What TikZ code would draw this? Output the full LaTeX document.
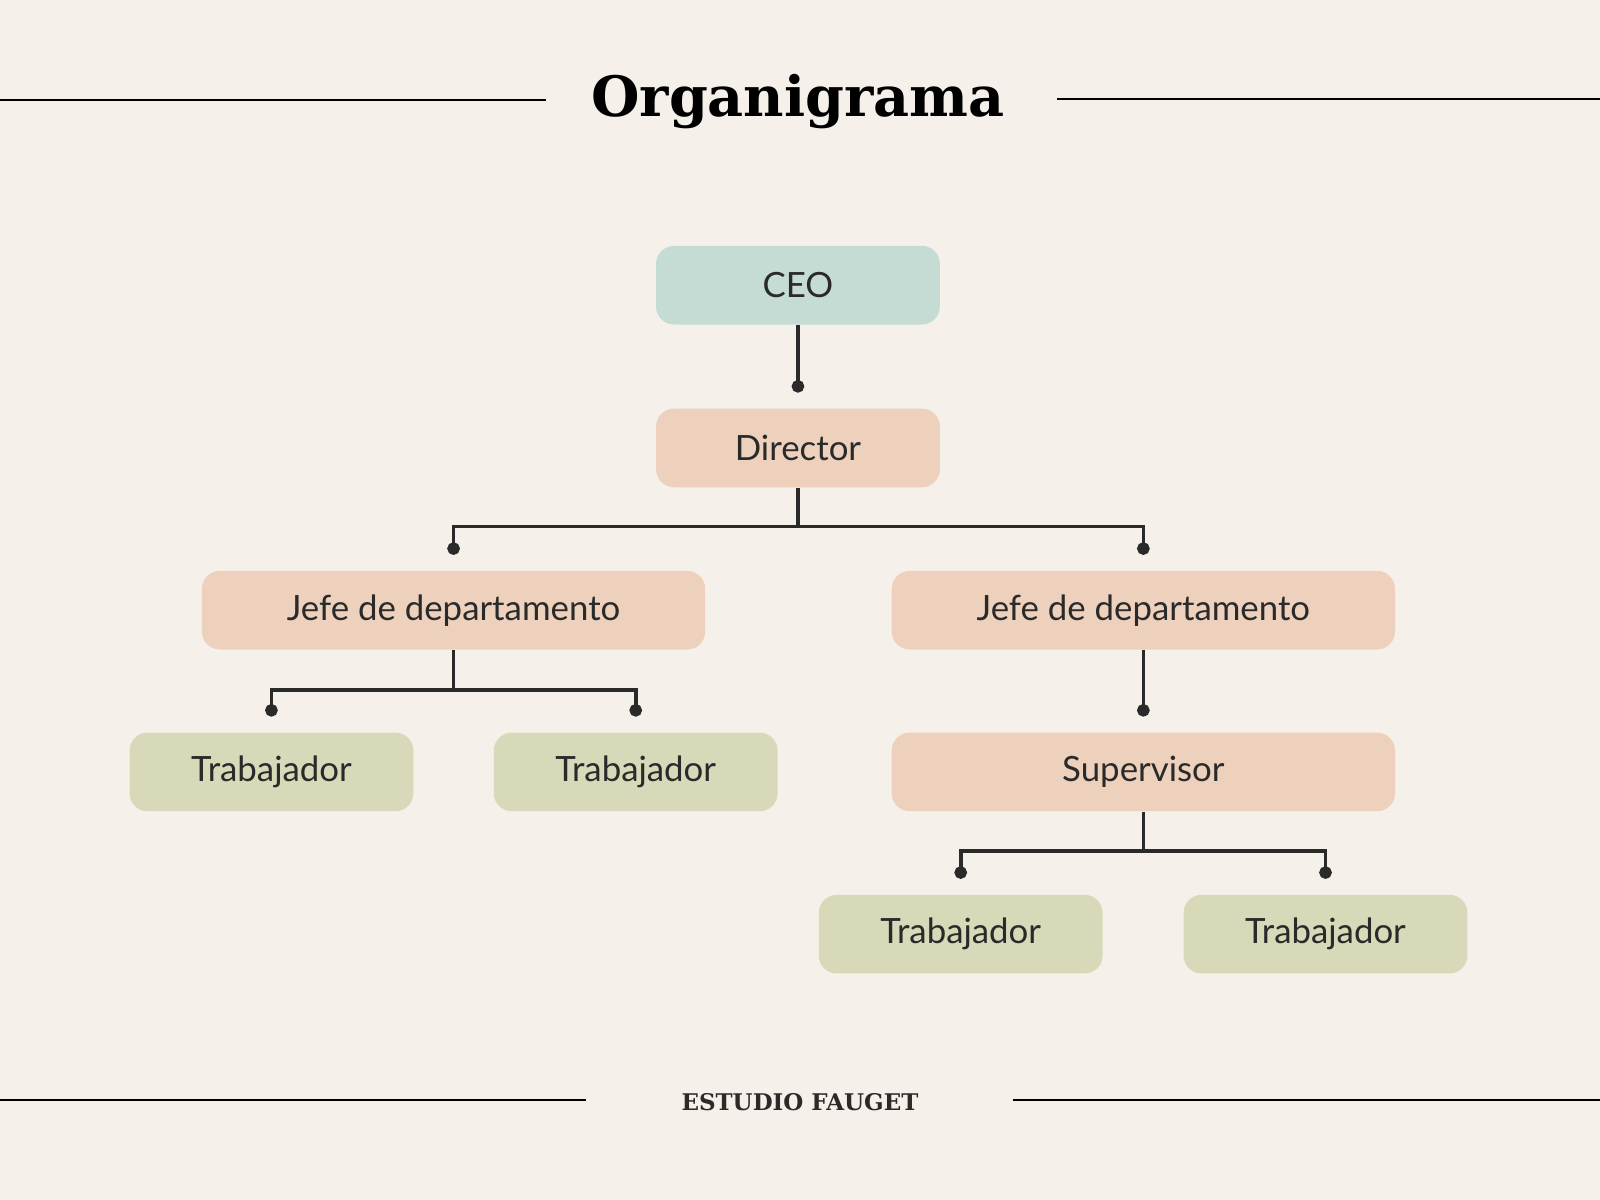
\documentclass[tikz,border=0pt]{standalone}
\usepackage{fontspec}
\setmainfont{Lato}
\newfontfamily\titlefont{DejaVu Serif}
\usetikzlibrary{arrows.meta}
\definecolor{bg}{HTML}{F5F1EA}
\definecolor{ceoc}{HTML}{C5DCD5}
\definecolor{peach}{HTML}{EDD1BC}
\definecolor{olive}{HTML}{D8D9B9}
\definecolor{ln}{HTML}{2A2A2A}
\begin{document}
\begin{tikzpicture}[x=0.01cm,y=-0.01cm,
  box/.style={rounded corners=5pt,minimum width=2.78cm,minimum height=0.77cm,inner sep=0pt,font=\fontsize{9.7}{11}\selectfont,text=ln},
  wide/.style={box,minimum width=4.93cm},
  con/.style={draw=ln,line width=1pt,-{Circle[length=3.5pt]}},
  rule/.style={draw=black,line width=0.4pt}]
\fill[bg] (0,0) rectangle (1568,1176);
\useasboundingbox (0,0) rectangle (1568,1176);
\node[font=\titlefont\bfseries\fontsize{15.5}{18}\selectfont] (title) at (782,100) {Organigrama};
\draw[rule] (0,98) -- (535,98);
\draw[rule] (1036,97) -- (1568,97);
\node[font=\titlefont\bfseries\fontsize{6.4}{8}\selectfont,text=ln] (foot) at (784,1080) {ESTUDIO FAUGET};
\draw[rule] (0,1078) -- (574,1078);
\draw[rule] (993,1078) -- (1568,1078);
\node[box,fill=ceoc] (ceo) at (782,279.5) {CEO};
\node[box,fill=peach] (dir) at (782,439) {Director};
\node[wide,fill=peach] (j1) at (444.5,598) {Jefe de departamento};
\node[wide,fill=peach] (j2) at (1120.5,598) {Jefe de departamento};
\node[box,fill=olive] (t1) at (266,756.5) {Trabajador};
\node[box,fill=olive] (t2) at (623,756.5) {Trabajador};
\node[wide,fill=peach] (sup) at (1120.5,756.5) {Supervisor};
\node[box,fill=olive] (t3) at (941.5,915.5) {Trabajador};
\node[box,fill=olive] (t4) at (1299,915.5) {Trabajador};
\foreach \p/\c in {ceo/dir,j2/sup}{
  \draw[con] (\p.south) -- ([yshift=0.15cm]\c.north);}
\foreach \p/\c/\m in {dir/j1/516,dir/j2/516,j1/t1/676,j1/t2/676,sup/t3/834,sup/t4/834}{
  \draw[con] (\p.south) |- (\c.north |- 0,\m) -- ([yshift=0.15cm]\c.north);}
\end{tikzpicture}
\end{document}
